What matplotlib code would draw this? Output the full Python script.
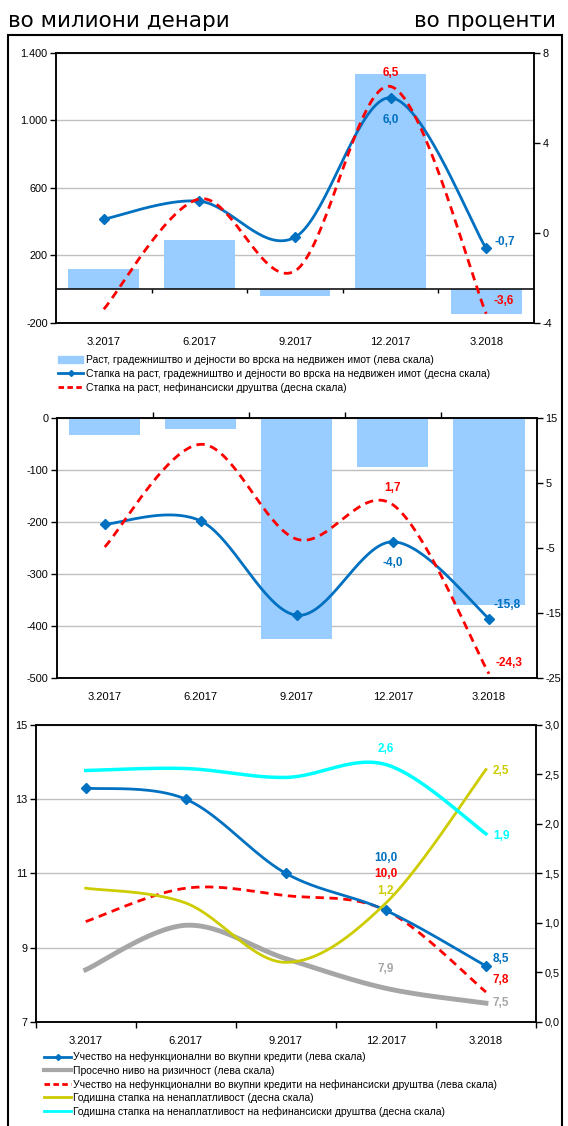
import numpy as np
import matplotlib.pyplot as plt
from matplotlib.patches import Rectangle, Patch
from matplotlib.lines import Line2D
from matplotlib.ticker import FuncFormatter, FixedLocator

plt.rcParams['font.family'] = ['Liberation Sans', 'DejaVu Sans']
plt.rcParams['axes.unicode_minus'] = False

quarters = ['3.2017', '6.2017', '9.2017', '12.2017', '3.2018']

# panel 1 - growth, construction and real estate
growth_constr = [120, 290, -40, 1275, -150]        # left scale, mil. denars
rate_constr = [0.6, 1.4, -0.2, 6.0, -0.7]           # right scale, %
rate_nonfin = [-3.4, 1.5, -1.7, 6.5, -3.6]          # right scale, %

# panel 2
growth2_constr = [-33, -20, -425, -93, -359]
rate2_constr = [-1.3, -0.8, -15.3, -4.0, -15.8]
rate2_nonfin = [-4.8, 11.0, -3.6, 1.7, -24.3]

# panel 3 - credit risk
npl_share = [13.3, 13.0, 11.0, 10.0, 8.5]
avg_risk = [8.4, 9.6, 8.7, 7.9, 7.5]
npl_share_nonfin = [9.7, 10.6, 10.4, 10.0, 7.8]
writeoff = [1.35, 1.2, 0.6, 1.2, 2.55]
writeoff_nonfin = [2.54, 2.56, 2.47, 2.6, 1.9]

BAR = '#99CCFF'
BLUE = '#0070C0'
RED = '#FF0000'
GREY = '#A6A6A6'
YELLOW = '#CCCC00'
CYAN = '#00FFFF'
GRID = '#C0C0C0'

W, H = 568, 1126


def smooth(y, n=40):
    # excel-like smoothed line (catmull-rom through bezier)
    y = np.asarray(y, float)
    x = np.arange(len(y), dtype=float)
    px = np.concatenate([[x[0]], x, [x[-1]]])
    py = np.concatenate([[y[0]], y, [y[-1]]])
    t = np.linspace(0, 1, n)[:, None]
    out = []
    for i in range(len(y) - 1):
        p0 = np.array([px[i], py[i]])
        p1 = np.array([px[i + 1], py[i + 1]])
        p2 = np.array([px[i + 2], py[i + 2]])
        p3 = np.array([px[i + 3], py[i + 3]])
        c1 = p1 + (p2 - p0) / 6
        c2 = p2 - (p3 - p1) / 6
        seg = ((1 - t) ** 3) * p1 + 3 * ((1 - t) ** 2) * t * c1 + 3 * (1 - t) * t ** 2 * c2 + t ** 3 * p2
        out.append(seg)
    pts = np.vstack(out)
    return pts[:, 0], pts[:, 1]


def fmt1(v):
    return f'{v:.1f}'.replace('.', ',')


def box(l, t, r, b):
    return [l / W, 1 - b / H, (r - l) / W, (b - t) / H]


def style(ax, axr, yl, yr, lfmt, rfmt, cat_pad):
    n = len(quarters)
    ax.set_xlim(-0.5, n - 0.5)
    ax.set_ylim(*yl[:2])
    ax.yaxis.set_major_locator(FixedLocator(yl[2]))
    ax.yaxis.set_major_formatter(FuncFormatter(lfmt))
    axr.set_ylim(*yr[:2])
    axr.yaxis.set_major_locator(FixedLocator(yr[2]))
    axr.yaxis.set_major_formatter(FuncFormatter(rfmt))
    ax.set_xticks(range(n))
    ax.set_xticklabels(quarters, fontsize=8)
    ax.tick_params(axis='x', length=0, pad=cat_pad)
    ax.tick_params(axis='y', length=4, width=1, labelsize=7.8, pad=2)
    axr.tick_params(axis='y', length=4, width=1, labelsize=7.8, pad=2)
    for a in (ax, axr):
        for s in a.spines.values():
            s.set_linewidth(1.1)
    ax.grid(axis='y', color=GRID, lw=1)
    ax.set_axisbelow(True)


def lab(ax, x, y, txt, color, dx=0, dy=0, ha='center'):
    ax.annotate(txt, (x, y), xytext=(dx, dy), textcoords='offset points',
                ha=ha, va='center', color=color, fontsize=8.5, fontweight='bold')


fig = plt.figure(figsize=(W / 100, H / 100), dpi=100)
x = np.arange(len(quarters))

# header
fig.text(8 / W, 1 - 27 / H, 'во милиони денари', fontsize=15.5, family='DejaVu Sans', va='baseline')
fig.text(556 / W, 1 - 27 / H, 'во проценти', fontsize=15.5, family='DejaVu Sans', va='baseline', ha='right')
fig.add_artist(Rectangle((8 / W, -0.01), (562 - 8) / W, (H - 35) / H + 0.01,
                         transform=fig.transFigure, fill=False, ec='black', lw=1.5))

# ---------- panel 1
ax1 = fig.add_axes(box(56, 52.7, 534, 322.7))
ax1r = ax1.twinx()
ax1.bar(x, growth_constr, width=0.74, color=BAR, zorder=2)
ax1.axhline(0, color='black', lw=1.1, zorder=3)
bnd = np.arange(len(quarters) - 1) + 0.5
ax1.vlines(bnd, 0, -25, color='black', lw=1, zorder=3)
sx, sy = smooth(rate_constr)
ax1r.plot(sx, sy, color=BLUE, lw=2)
ax1r.plot(x, rate_constr, ls='none', marker='D', ms=5, color=BLUE)
sx, sy = smooth(rate_nonfin)
ax1r.plot(sx, sy, color=RED, lw=2, ls=(0, (3, 2)))
style(ax1, ax1r, (-200, 1400, [-200, 200, 600, 1000, 1400]), (-4, 8, [-4, 0, 4, 8]),
      lambda v, p: f'{v:,.0f}'.replace(',', '.'), lambda v, p: f'{v:.0f}', 10)
lab(ax1r, 3, rate_nonfin[3], fmt1(rate_nonfin[3]), RED, dy=10)
lab(ax1r, 3, rate_constr[3], fmt1(rate_constr[3]), BLUE, dy=-16)
lab(ax1r, 4, rate_constr[4], fmt1(rate_constr[4]), BLUE, dx=6, dy=5, ha='left')
lab(ax1r, 4, rate_nonfin[4], fmt1(rate_nonfin[4]), RED, dx=5, dy=9, ha='left')

h1 = [Patch(color=BAR),
      Line2D([], [], color=BLUE, lw=2, marker='D', ms=3),
      Line2D([], [], color=RED, lw=2, ls=(0, (2, 1.2)))]
l1 = ['Раст, градежништво и дејности во врска на недвижен имот (лева скала)',
      'Стапка на раст, градежништво и дејности во врска на недвижен имот (десна скала)',
      'Стапка на раст, нефинансиски друштва (десна скала)']
fig.legend(h1, l1, loc='upper left', bbox_to_anchor=(58 / W, 1 - 355 / H), frameon=False,
           fontsize=7.5, borderpad=0, handlelength=2.4, handleheight=0.7,
           handletextpad=0.25, labelspacing=0.35, borderaxespad=0)

# ---------- panel 2
ax2 = fig.add_axes(box(56.7, 418.3, 537, 678.3))
ax2r = ax2.twinx()
ax2.bar(x, growth2_constr, width=0.74, color=BAR, zorder=2)
ax2.vlines(bnd, 0, 12, color='black', lw=1, zorder=3, clip_on=False)
sx, sy = smooth(rate2_constr)
ax2r.plot(sx, sy, color=BLUE, lw=2)
ax2r.plot(x, rate2_constr, ls='none', marker='D', ms=5, color=BLUE)
sx, sy = smooth(rate2_nonfin)
ax2r.plot(sx, sy, color=RED, lw=2, ls=(0, (3, 2)))
style(ax2, ax2r, (-500, 0, [-500, -400, -300, -200, -100, 0]), (-25, 15, [-25, -15, -5, 5, 15]),
      lambda v, p: f'{v:.0f}', lambda v, p: f'{v:.0f}', 10)
lab(ax2r, 3, rate2_nonfin[3], fmt1(rate2_nonfin[3]), RED, dy=12)
lab(ax2r, 3, rate2_constr[3], fmt1(rate2_constr[3]), BLUE, dy=-15)
lab(ax2r, 4, rate2_constr[4], fmt1(rate2_constr[4]), BLUE, dx=3, dy=10, ha='left')
lab(ax2r, 4, rate2_nonfin[4], fmt1(rate2_nonfin[4]), RED, dx=5, dy=8, ha='left')

# ---------- panel 3
ax3 = fig.add_axes(box(35.7, 725, 536, 1021.7))
ax3r = ax3.twinx()
sx, sy = smooth(avg_risk)
ax3.plot(sx, sy, color=GREY, lw=3.5)
sx, sy = smooth(npl_share_nonfin)
ax3.plot(sx, sy, color=RED, lw=2, ls=(0, (3, 2)))
sx, sy = smooth(npl_share)
ax3.plot(sx, sy, color=BLUE, lw=2)
ax3.plot(x, npl_share, ls='none', marker='D', ms=5, color=BLUE)
sx, sy = smooth(writeoff)
ax3r.plot(sx, sy, color=YELLOW, lw=2)
sx, sy = smooth(writeoff_nonfin)
ax3r.plot(sx, sy, color=CYAN, lw=2.5)
style(ax3, ax3r, (7, 15, [7, 9, 11, 13, 15]), (0, 3, np.arange(0, 3.01, 0.5)),
      lambda v, p: f'{v:.0f}', lambda v, p: fmt1(v), 10)
ax3.set_xticks(np.arange(len(quarters) + 1) - 0.5, minor=True)
ax3.tick_params(axis='x', which='minor', length=4, width=1)
lab(ax3r, 3, writeoff_nonfin[3], fmt1(writeoff_nonfin[3]), CYAN, dy=11)
lab(ax3, 3, npl_share[3], fmt1(npl_share[3]), BLUE, dy=38)
lab(ax3, 3, npl_share_nonfin[3], fmt1(npl_share_nonfin[3]), RED, dy=26)
lab(ax3r, 3, writeoff[3], fmt1(writeoff[3]), YELLOW, dy=9)
lab(ax3, 3, avg_risk[3], fmt1(avg_risk[3]), GREY, dy=14)
lab(ax3r, 4, writeoff[4], fmt1(writeoff[4]), YELLOW, dx=5, dy=-1, ha='left')
lab(ax3r, 4, writeoff_nonfin[4], fmt1(writeoff_nonfin[4]), CYAN, dx=5, dy=-1.5, ha='left')
lab(ax3, 4, npl_share[4], fmt1(npl_share[4]), BLUE, dx=5, dy=5, ha='left')
lab(ax3, 4, npl_share_nonfin[4], fmt1(npl_share_nonfin[4]), RED, dx=5, dy=9, ha='left')
lab(ax3, 4, avg_risk[4], fmt1(avg_risk[4]), GREY, dx=5, ha='left')

h3 = [Line2D([], [], color=BLUE, lw=2, marker='D', ms=3),
      Line2D([], [], color=GREY, lw=3),
      Line2D([], [], color=RED, lw=2, ls=(0, (2, 1.2))),
      Line2D([], [], color=YELLOW, lw=2),
      Line2D([], [], color=CYAN, lw=2)]
l3 = ['Учество на нефункционални во вкупни кредити (лева скала)',
      'Просечно ниво на ризичност (лева скала)',
      'Учество на нефункционални во вкупни кредити на нефинансиски друштва (лева скала)',
      'Годишна стапка на ненаплатливост (десна скала)',
      'Годишна стапка на ненаплатливост на нефинансиски друштва (десна скала)']
fig.legend(h3, l3, loc='upper left', bbox_to_anchor=(44 / W, 1 - 1052 / H), frameon=False,
           fontsize=7.5, borderpad=0, handlelength=2.6, handletextpad=0.2,
           labelspacing=0.32, borderaxespad=0)

fig.savefig('out.png', dpi=100)
